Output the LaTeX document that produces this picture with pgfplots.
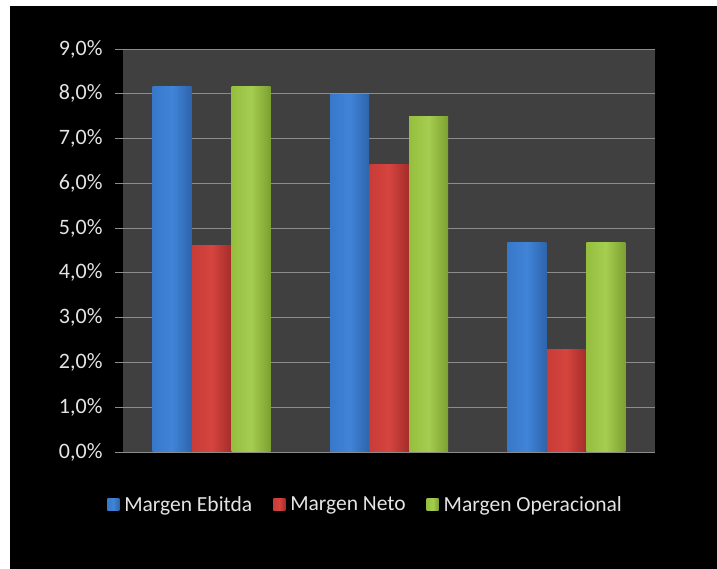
\documentclass[border=0pt]{standalone}
\usepackage{pgfplots}
\pgfplotsset{compat=1.18}
\usepackage{fontspec}
\setmainfont{Carlito}
\definecolor{plotbg}{RGB}{64,64,64}
\definecolor{gridc}{RGB}{140,140,140}
\definecolor{txt}{RGB}{228,228,228}
\definecolor{bL}{RGB}{56,120,202}
\definecolor{bM}{RGB}{64,132,216}
\definecolor{bR}{RGB}{46,100,172}
\definecolor{rL}{RGB}{200,60,56}
\definecolor{rM}{RGB}{214,68,62}
\definecolor{rR}{RGB}{165,45,42}
\definecolor{gL}{RGB}{150,190,62}
\definecolor{gM}{RGB}{165,205,80}
\definecolor{gR}{RGB}{125,160,48}
\pgfplotsset{
  blues/.style={draw=none, bar shift=-39.5pt, left color=bL, right color=bR, middle color=bM},
  reds/.style={draw=none, bar shift=0pt, left color=rL, right color=rR, middle color=rM},
  greens/.style={draw=none, bar shift=39.5pt, left color=gL, right color=gR, middle color=gM},
}
\begin{document}
\begin{tikzpicture}[x=1pt,y=1pt]
\useasboundingbox (0,0) rectangle (717,569);
\fill[white] (0,0) rectangle (717,569);
\fill[black] (10,0) rectangle (717,563);
\begin{axis}[
  at={(123pt,117pt)}, anchor=south west,
  scale only axis, width=532pt, height=403pt,
  xmin=-0.5, xmax=2.5, ymin=0, ymax=9,
  ybar, bar width=39pt,
  xtick=\empty,
  ytick={0,1,2,3,4,5,6,7,8,9},
  yticklabels={{0,0\%},{1,0\%},{2,0\%},{3,0\%},{4,0\%},{5,0\%},{6,0\%},{7,0\%},{8,0\%},{9,0\%}},
  ytick pos=left,
  tick align=outside,
  major tick length=8pt,
  ytick style={draw=gridc, line width=0.8pt},
  ymajorgrids,
  major grid style={draw=gridc, line width=0.8pt},
  axis line style={draw=none},
  axis background/.style={fill=plotbg},
  yticklabel style={text=txt, font=\fontsize{22}{25}\selectfont, xshift=-9pt},
  legend columns=3,
  legend style={at={(0.456,-0.130)}, anchor=center, draw=none, fill=none,
    text=txt, font=\fontsize{21.5}{25}\selectfont,
    /tikz/every even column/.append style={column sep=19pt},
    /tikz/every odd column/.append style={column sep=3pt}},
  legend image code/.code={\fill[#1] (0pt,-6pt) rectangle (12pt,6pt);},
]
\addplot[blues] coordinates {(0,8.17)};
\addlegendentry{Margen Ebitda}
\addplot[blues, forget plot] coordinates {(1,7.98)};
\addplot[blues, forget plot] coordinates {(2,4.67)};
\addplot[reds] coordinates {(0,4.62)};
\addlegendentry{Margen Neto}
\addplot[reds, forget plot] coordinates {(1,6.41)};
\addplot[reds, forget plot] coordinates {(2,2.29)};
\addplot[greens] coordinates {(0,8.17)};
\addlegendentry{Margen Operacional}
\addplot[greens, forget plot] coordinates {(1,7.49)};
\addplot[greens, forget plot] coordinates {(2,4.67)};
\end{axis}
\end{tikzpicture}
\end{document}
